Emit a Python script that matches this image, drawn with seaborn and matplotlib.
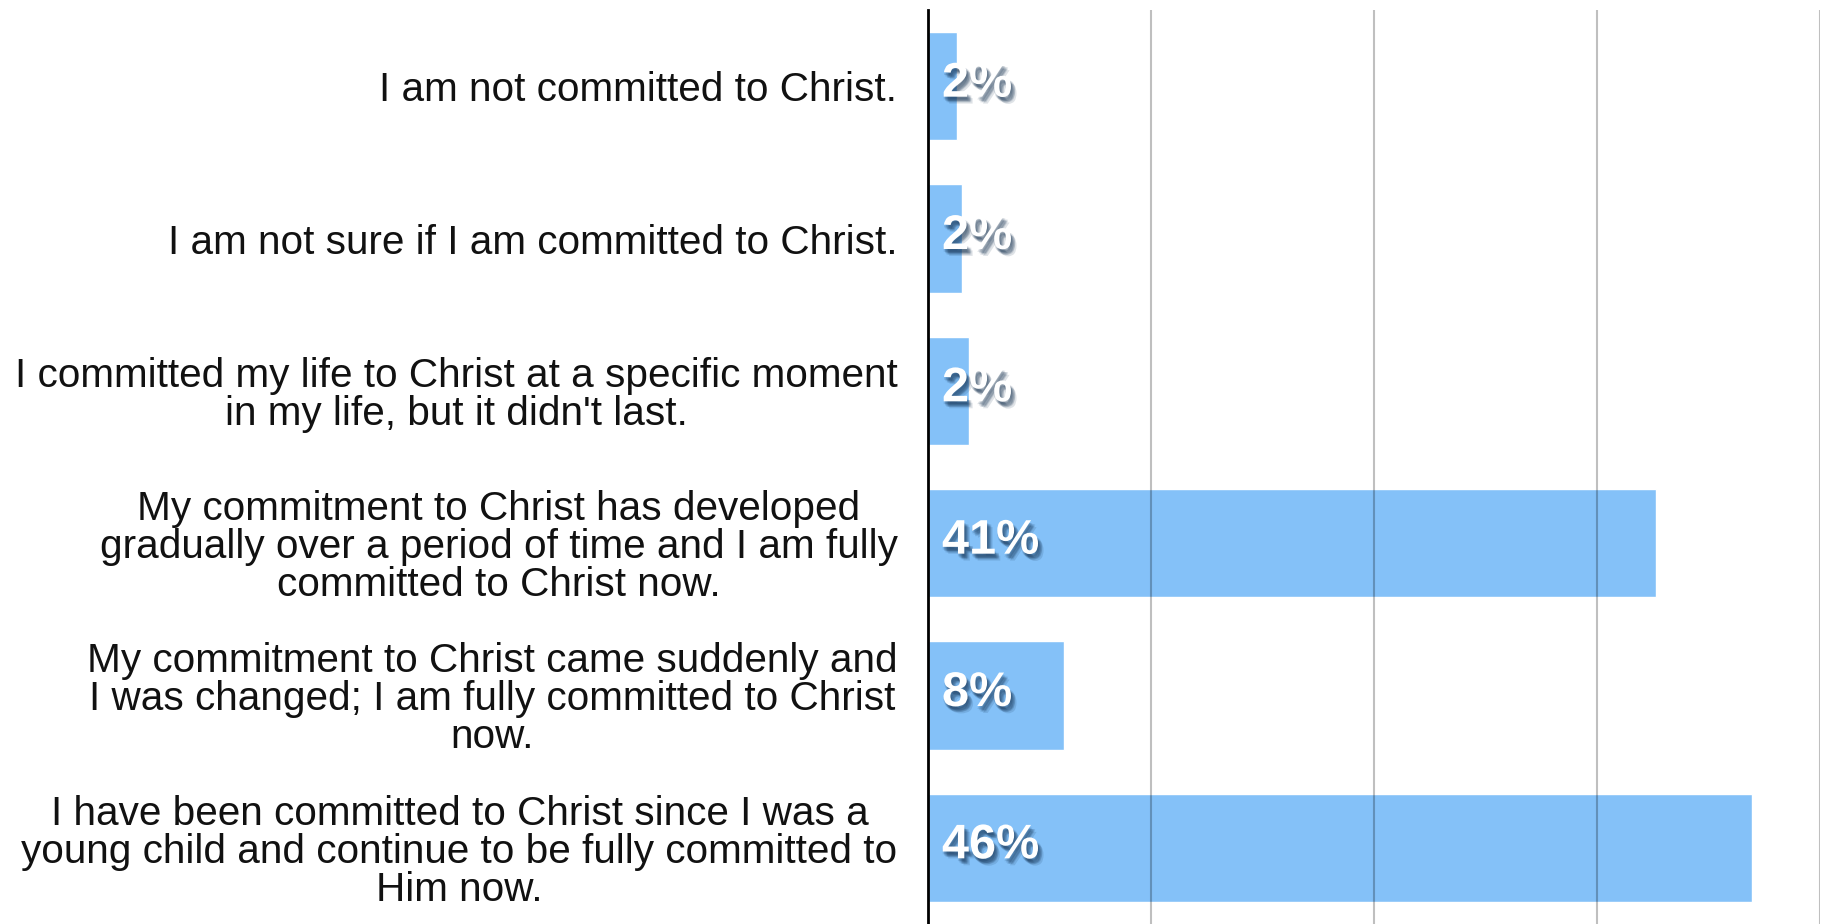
import matplotlib
matplotlib.use("Agg")
import matplotlib.pyplot as plt
import matplotlib.patheffects as pe
import seaborn as sns
import pandas as pd

categories = [
    "I am not committed to Christ.",
    "I am not sure if I am committed to Christ.",
    "I committed my life to Christ at a specific moment\nin my life, but it didn't last.",
    "My commitment to Christ has developed\ngradually over a period of time and I am fully\ncommitted to Christ now.",
    "My commitment to Christ came suddenly and\nI was changed; I am fully committed to Christ\nnow.",
    "I have been committed to Christ since I was a\nyoung child and continue to be fully committed to\nHim now.",
]
values = [1.6, 1.9, 2.3, 40.8, 7.6, 46.2]
value_labels = ["2%", "2%", "2%", "41%", "8%", "46%"]
grid_ticks = [12.5, 25, 37.5, 50]

df = pd.DataFrame({"category": categories, "value": values})

sns.set_theme(style="white")
plt.rcParams["font.family"] = ["Liberation Sans", "DejaVu Sans"]

fig = plt.figure(figsize=(18.30, 9.24), dpi=100)
ax = fig.add_axes([928 / 1830, 0.0, (1820 - 928) / 1830, 1 - 10 / 924])

sns.barplot(data=df, x="value", y="category", orient="h", color="#84C1F8",
            saturation=1, width=0.71, ax=ax, order=categories)

ax.set_xlim(0, 50)
ax.set_ylim(5.5, -0.5)
ax.set_xticks(grid_ticks)
ax.set_xticklabels([])
ax.set_xlabel("")
ax.set_ylabel("")
ax.tick_params(axis="both", length=0)
ax.tick_params(axis="y", pad=22, labelsize=29.2, labelcolor="#111111")
for t in ax.get_yticklabels():
    t.set_multialignment("center")
    t.set_linespacing(1.0)

ax.grid(axis="x", color="black", alpha=0.25, linewidth=1.5)
ax.grid(axis="y", visible=False)
ax.set_axisbelow(False)

for side in ["top", "right", "bottom"]:
    ax.spines[side].set_visible(False)
ax.spines["left"].set_color("black")
ax.spines["left"].set_linewidth(2)
ax.spines["left"].set_zorder(5)

shadow = [pe.SimplePatchShadow(offset=o, shadow_rgbFace="#0d2a4a", alpha=0.13)
          for o in [(1, -2), (2, -3), (3, -4), (2, -4), (3, -3), (1, -3), (4, -5), (0, -2)]]

for i, lab in enumerate(value_labels):
    ax.annotate(lab, xy=(0, i), xytext=(14, 2), textcoords="offset pixels",
                ha="left", va="center", color="white", fontsize=35,
                fontweight="bold", zorder=6,
                path_effects=shadow + [pe.Normal()])

fig.savefig("out.png", dpi=100)
